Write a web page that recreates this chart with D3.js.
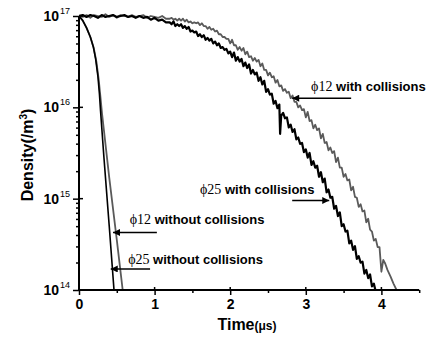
<!DOCTYPE html>
<html><head><meta charset="utf-8">
<script src="https://cdn.jsdelivr.net/npm/d3@7"></script>
<style>
html,body{margin:0;padding:0;background:#fff;}
svg{display:block;}
</style></head>
<body>
<svg id="c" width="429" height="337"></svg>
<script>
// ---------------- data ----------------
// [time in microseconds, log10(density in m^-3)]
const xTicksMajor = [0, 1, 2, 3, 4];
const xTicksMinor = [0.5, 1.5, 2.5, 3.5, 4.5];
const yDecades = [14, 15, 16, 17];

const phi12With = [[0,17],[0.05,16.99],[0.1,17.01],[0.15,16.98],[0.2,17.01],[0.25,17],[0.3,16.99],[0.35,17.02],[0.4,16.99],[0.45,17.01],[0.5,16.98],[0.55,17.01],[0.6,17],[0.65,16.99],[0.7,17.01],[0.75,16.99],[0.8,17],[0.85,17.01],[0.9,16.98],[0.95,17],[1,16.99],[1.05,16.98],[1.1,17],[1.15,16.97],[1.2,16.97],
[1.225,16.98],[1.25,16.96],[1.275,16.97],[1.3,16.95],[1.325,16.97],[1.35,16.95],[1.375,16.97],[1.4,16.94],[1.425,16.96],[1.45,16.93],[1.475,16.94],[1.5,16.92],[1.525,16.93],[1.55,16.92],[1.575,16.93],[1.6,16.9],[1.625,16.92],[1.65,16.89],[1.675,16.89],[1.7,16.86],[1.725,16.88],[1.75,16.85],[1.775,16.86],[1.8,16.83],[1.825,16.84],[1.85,16.8],[1.875,16.8],[1.9,16.77],[1.925,16.77],[1.95,16.75],[1.975,16.75],
[2,16.7],[2.025,16.74],[2.05,16.68],[2.075,16.68],[2.1,16.63],[2.125,16.66],[2.15,16.62],[2.175,16.65],[2.2,16.58],[2.225,16.61],[2.25,16.55],[2.275,16.56],[2.3,16.51],[2.325,16.54],[2.35,16.5],[2.375,16.52],[2.4,16.45],[2.425,16.48],[2.45,16.41],[2.475,16.41],[2.5,16.35],[2.525,16.38],[2.55,16.33],[2.575,16.34],[2.6,16.27],[2.625,16.3],[2.65,16.23],[2.675,16.24],[2.7,16.18],[2.725,16.2],[2.75,16.16],[2.775,16.17],[2.8,16.1],[2.825,16.13],[2.85,16.06],[2.875,16.06],[2.9,16],[2.925,16.02],[2.95,15.97],[2.975,15.98],
[3,15.89],[3.025,15.95],[3.05,15.85],[3.075,15.86],[3.1,15.77],[3.125,15.81],[3.15,15.75],[3.175,15.77],[3.2,15.66],[3.225,15.71],[3.25,15.61],[3.275,15.62],[3.3,15.53],[3.325,15.56],[3.35,15.5],[3.375,15.52],[3.4,15.4],[3.425,15.45],[3.45,15.34],[3.475,15.34],[3.5,15.24],[3.525,15.27],[3.55,15.2],[3.575,15.21],[3.6,15.09],[3.625,15.13],[3.65,15.02],[3.675,15.01],[3.7,14.91],[3.725,14.94],[3.75,14.86],[3.775,14.87],[3.8,14.74],[3.825,14.78],[3.85,14.66],[3.875,14.64],[3.9,14.54],[3.925,14.56],[3.95,14.47],[3.975,14.47],[4,14.2],[4.025,14.33],[4.05,14.29],[4.08,14.22],[4.12,14.15],[4.16,14.07],[4.2,14]];

const phi25With = [[0,17],[0.05,17.01],[0.1,16.99],[0.15,17.01],[0.2,17],[0.25,16.98],[0.3,17.01],[0.35,16.99],[0.4,17],[0.45,17.01],[0.5,16.99],[0.55,17],[0.6,17.01],[0.65,16.99],[0.7,17],[0.75,16.98],[0.8,17],[0.85,16.98],[0.9,16.99],[0.95,16.96],[1,16.98],[1.05,16.95],[1.1,16.96],[1.15,16.93],[1.2,16.93],
[1.225,16.91],[1.25,16.94],[1.275,16.89],[1.3,16.91],[1.325,16.89],[1.35,16.91],[1.375,16.87],[1.4,16.89],[1.425,16.86],[1.45,16.88],[1.475,16.83],[1.5,16.84],[1.525,16.82],[1.55,16.83],[1.575,16.78],[1.6,16.8],[1.625,16.77],[1.65,16.79],[1.675,16.74],[1.7,16.76],[1.725,16.73],[1.75,16.75],[1.775,16.7],[1.8,16.72],[1.825,16.68],[1.85,16.7],[1.875,16.65],[1.9,16.66],[1.925,16.63],[1.95,16.64],[1.975,16.59],
[2,16.61],[2.025,16.55],[2.05,16.6],[2.075,16.51],[2.1,16.55],[2.125,16.5],[2.15,16.53],[2.175,16.45],[2.2,16.49],[2.225,16.43],[2.25,16.47],[2.275,16.37],[2.3,16.41],[2.325,16.36],[2.35,16.38],[2.375,16.29],[2.4,16.33],[2.425,16.25],[2.45,16.29],[2.475,16.17],[2.5,16.2],[2.525,16.14],[2.55,16.15],[2.575,16.04],[2.6,16.07],[2.625,15.99],[2.65,16.03],[2.66,15.71],[2.675,15.91],[2.7,15.94],[2.725,15.88],[2.75,15.89],[2.775,15.78],[2.8,15.81],[2.825,15.73],[2.85,15.76],[2.875,15.65],[2.9,15.67],[2.925,15.6],[2.95,15.61],[2.975,15.51],
[3,15.54],[3.025,15.45],[3.05,15.5],[3.075,15.37],[3.1,15.41],[3.125,15.34],[3.15,15.36],[3.175,15.24],[3.2,15.29],[3.225,15.18],[3.25,15.22],[3.275,15.07],[3.3,15.1],[3.325,15.01],[3.35,15.02],[3.375,14.89],[3.4,14.92],[3.425,14.81],[3.45,14.85],[3.475,14.7],[3.5,14.72],[3.525,14.64],[3.55,14.65],[3.575,14.51],[3.6,14.54],[3.625,14.44],[3.65,14.48],[3.675,14.34],[3.7,14.37],[3.725,14.3],[3.75,14.31],[3.775,14.18],[3.8,14.22],[3.825,14.13],[3.85,14.17],[3.875,14.04],[3.9,14.07],[3.92,14]];

const phi12Without = [[0,17],[0.05,16.95],[0.1,16.87],[0.15,16.77],[0.195,16.65],[0.23,16.5],[0.26,16.31],[0.285,16.1],[0.305,15.93],[0.4,15.23],[0.5,14.55],[0.578,14]];
const phi25Without = [[0,17],[0.05,16.95],[0.1,16.87],[0.15,16.77],[0.19,16.66],[0.22,16.53],[0.25,16.34],[0.27,16.15],[0.285,15.96],[0.33,15.45],[0.4,14.7],[0.463,14]];

// annotations: label pieces, arrow tail/tip in data coords (t, log10 n)
const annoSym = ["\u03D512", "\u03D525", "\u03D512", "\u03D525"];
const annoText = [" with collisions", " with collisions", " without collisions", " without collisions"];
const annoTextT = [3.07, 1.60, 0.67, 0.65];
const annoTextLogN = [16.18, 15.05, 14.72, 14.28];
const arrowTailT = [3.60, 2.82, 1.03, 0.94];
const arrowTipT = [2.82, 3.31, 0.45, 0.42];
const arrowLogN = [16.10, 14.98, 14.63, 14.23];

// ---------------- drawing ----------------
const svg = d3.select("#c");
const x = d3.scaleLinear().domain([0, 4.5]).range([79, 419.2]);
const y = d3.scaleLog().domain([1e14, 1e17]).range([290, 16]);
const sans = "'Liberation Sans', Arial, sans-serif";
const serif = "'Liberation Serif', 'Times New Roman', serif";

const toPts = P => P.map(p => [p[0], Math.pow(10, p[1])]);
const line = d3.line().x(d => x(d[0])).y(d => y(d[1]));

const series = [
  {pts: toPts(phi12With), color: "#5a5a5a", w: 1.8},
  {pts: toPts(phi25With), color: "#000", w: 2.2},
  {pts: toPts(phi12Without), color: "#5a5a5a", w: 1.8},
  {pts: toPts(phi25Without), color: "#000", w: 1.6}
];
svg.append("clipPath").attr("id", "clp").append("rect")
  .attr("x", 79).attr("y", 8).attr("width", 345).attr("height", 282);
svg.append("g").attr("clip-path", "url(#clp)").selectAll("path").data(series).join("path")
  .attr("d", d => line(d.pts)).attr("fill", "none")
  .attr("stroke", d => d.color).attr("stroke-width", d => d.w)
  .attr("stroke-linejoin", "round");

// axes lines
const ax = svg.append("g").attr("stroke", "#000").attr("fill", "none");
ax.append("line").attr("x1", x(0)).attr("x2", x(0)).attr("y1", y(1e17)).attr("y2", y(1e14)).attr("stroke-width", 2);
ax.append("line").attr("x1", x(0) - 1).attr("x2", x(4.5)).attr("y1", y(1e14)).attr("y2", y(1e14)).attr("stroke-width", 2);

// x ticks
const gx = svg.append("g").attr("transform", `translate(0,${y(1e14)})`);
gx.call(d3.axisBottom(x).tickValues(xTicksMajor).tickSize(5).tickFormat(d3.format("d")));
svg.append("g").attr("transform", `translate(0,${y(1e14)})`)
  .call(d3.axisBottom(x).tickValues(xTicksMinor).tickSize(3).tickFormat(""));
svg.selectAll(".domain").remove();
svg.selectAll(".tick line").attr("stroke-width", 1.5);
gx.selectAll("text").attr("font-family", sans).attr("font-weight", "bold")
  .attr("font-size", 14).attr("fill", "#000").attr("dy", "0.8em");
svg.append("g").selectAll("line").data(xTicksMajor).join("line")
  .attr("x1", d => x(d)).attr("x2", d => x(d)).attr("y1", y(1e14)).attr("y2", y(1e14) - 3)
  .attr("stroke", "#000").attr("stroke-width", 1.5);

// y ticks
const yMinor = [];
yDecades.slice(0, 3).forEach(e => { for (let m = 2; m <= 9; m++) yMinor.push(m * Math.pow(10, e)); });
const gy = svg.append("g").attr("transform", `translate(${x(0)},0)`);
gy.call(d3.axisLeft(y).tickValues(yDecades.map(e => Math.pow(10, e))).tickSize(6).tickFormat(""));
svg.append("g").attr("transform", `translate(${x(0)},0)`)
  .call(d3.axisLeft(y).tickValues(yMinor).tickSize(3).tickFormat(""));
svg.selectAll(".domain").remove();
svg.selectAll(".tick line").attr("stroke-width", 1.5);
svg.append("g").selectAll("line").data(yDecades).join("line")
  .attr("x1", x(0)).attr("x2", x(0) + 4).attr("y1", d => y(Math.pow(10, d))).attr("y2", d => y(Math.pow(10, d)))
  .attr("stroke", "#000").attr("stroke-width", 1.5);

// y tick labels 10^n
const yl = svg.append("g").selectAll("text").data(yDecades).join("text")
  .attr("x", 70).attr("y", d => y(Math.pow(10, d)) + 5)
  .attr("text-anchor", "end").attr("font-family", sans).attr("fill", "#000");
yl.append("tspan").text("10").attr("font-weight", "bold").attr("font-size", 14);
yl.append("tspan").text(d => d).attr("font-size", 9).attr("dx", 1).attr("dy", -7);

// axis titles
const xt = svg.append("text").attr("x", 247).attr("y", 330).attr("text-anchor", "middle")
  .attr("font-family", sans).attr("font-weight", "bold").attr("fill", "#000");
xt.append("tspan").text("Time").attr("font-size", 16);
xt.append("tspan").text("(\u03BCs)").attr("font-size", 12);

const yt = svg.append("text").attr("transform", "translate(33,155) rotate(-90)")
  .attr("text-anchor", "middle").attr("font-family", sans).attr("font-weight", "bold").attr("fill", "#000");
yt.append("tspan").text("Density(/m").attr("font-size", 16);
yt.append("tspan").text("3").attr("font-size", 10).attr("dy", -6);
yt.append("tspan").text(")").attr("font-size", 16).attr("dy", 6);

// annotations
svg.append("defs").append("marker").attr("id", "ah").attr("viewBox", "0 0 10 10")
  .attr("refX", 10).attr("refY", 5).attr("markerWidth", 9).attr("markerHeight", 7)
  .attr("markerUnits", "userSpaceOnUse").attr("orient", "auto")
  .append("path").attr("d", "M0,0L10,5L0,10Z").attr("fill", "#000");
const idx = d3.range(annoSym.length);
svg.append("g").selectAll("line").data(idx).join("line")
  .attr("x1", i => x(arrowTailT[i])).attr("x2", i => x(arrowTipT[i]))
  .attr("y1", i => y(Math.pow(10, arrowLogN[i]))).attr("y2", i => y(Math.pow(10, arrowLogN[i])))
  .attr("stroke", "#000").attr("stroke-width", 1.6).attr("marker-end", "url(#ah)");
const at = svg.append("g").selectAll("text").data(idx).join("text")
  .attr("x", i => x(annoTextT[i])).attr("y", i => y(Math.pow(10, annoTextLogN[i])))
  .attr("fill", "#000");
at.append("tspan").text(i => annoSym[i]).attr("font-family", serif).attr("font-size", 14).attr("fill", "#000");
at.append("tspan").text(i => annoText[i]).attr("font-family", sans).attr("font-weight", "bold").attr("font-size", 13).attr("fill", "#000");
</script>
</body></html>
